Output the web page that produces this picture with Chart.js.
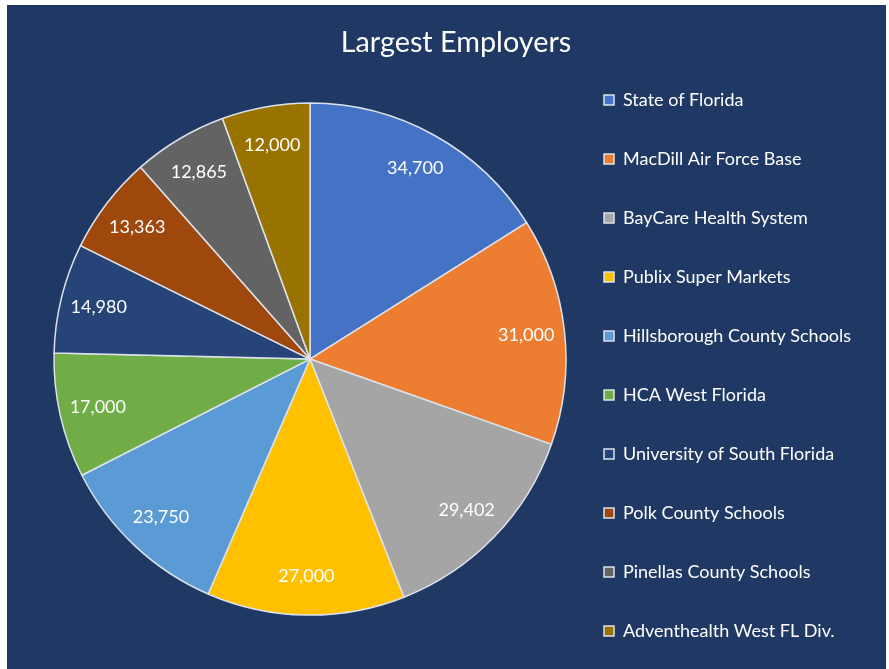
<!DOCTYPE html>
<html lang="en">
<head>
  <meta charset="UTF-8" />
  <title>Largest Employers</title>
  <script src="https://cdn.jsdelivr.net/npm/chart.js"></script>
  <style>
    html, body {
      margin: 0;
      height: 100%;
      overflow: hidden;
      background: #fff;
    }

    .frame {
      position: absolute;
      left: 7px;
      top: 5px;
      width: 879px;
      height: 721px;
      background: #1f3864;
    }
  </style>
</head>
<body>
  <div class="frame">
    <canvas id="employersChart" width="879" height="721"></canvas>
  </div>

  <script>
    const employers = [
      'State of Florida',
      'MacDill Air Force Base',
      'BayCare Health System',
      'Publix Super Markets',
      'Hillsborough County Schools',
      'HCA West Florida',
      'University of South Florida',
      'Polk County Schools',
      'Pinellas County Schools',
      'Adventhealth West FL Div.'
    ];
    const headcount = [34700, 31000, 29402, 27000, 23750, 17000, 14980, 13363, 12865, 12000];
    const sliceColors = ['#4472c4', '#ed7d31', '#a5a5a5', '#ffc000', '#5b9bd5',
                         '#70ad47', '#264478', '#9e480e', '#636363', '#997300'];

    // value labels inside each slice, near the rim
    const sliceLabels = {
      id: 'sliceLabels',
      afterDatasetsDraw(chart) {
        const ctx = chart.ctx;
        const meta = chart.getDatasetMeta(0);
        ctx.save();
        ctx.font = '18px Lato';
        ctx.fillStyle = '#ffffff';
        ctx.textAlign = 'center';
        ctx.textBaseline = 'middle';
        meta.data.forEach((arc, i) => {
          const p = arc.getProps(['x', 'y', 'startAngle', 'endAngle', 'outerRadius']);
          const mid = (p.startAngle + p.endAngle) / 2;
          const r = p.outerRadius * 0.85;
          ctx.fillText(headcount[i].toLocaleString('en-US'),
            p.x + Math.cos(mid) * r, p.y + Math.sin(mid) * r);
        });
        ctx.restore();
      }
    };

    new Chart(document.getElementById('employersChart'), {
      type: 'pie',
      data: {
        labels: employers,
        datasets: [{
          data: headcount,
          backgroundColor: sliceColors,
          borderColor: '#dde2ea',
          borderWidth: 1.5,
          radius: 256
        }]
      },
      options: {
        responsive: false,
        animation: false,
        layout: { padding: { left: 50, right: 31 } },
        plugins: {
          title: {
            display: true,
            text: 'Largest Employers',
            color: '#ffffff',
            font: { family: 'Lato', size: 28.8, weight: 'normal' },
            padding: { top: 20, bottom: 13 }
          },
          // empty bottom box, keeps the pie centred while the legend runs lower
          subtitle: {
            display: true,
            position: 'bottom',
            text: '',
            font: { size: 12 },
            padding: { top: 66, bottom: 0 }
          },
          legend: {
            position: 'right',
            align: 'center',
            maxWidth: 292,
            labels: {
              color: '#ffffff',
              font: { family: 'Lato', size: 18 },
              boxWidth: 10,
              boxHeight: 10,
              padding: 41
            }
          },
          tooltip: { enabled: false }
        }
      },
      plugins: [sliceLabels]
    });
  </script>
</body>
</html>
